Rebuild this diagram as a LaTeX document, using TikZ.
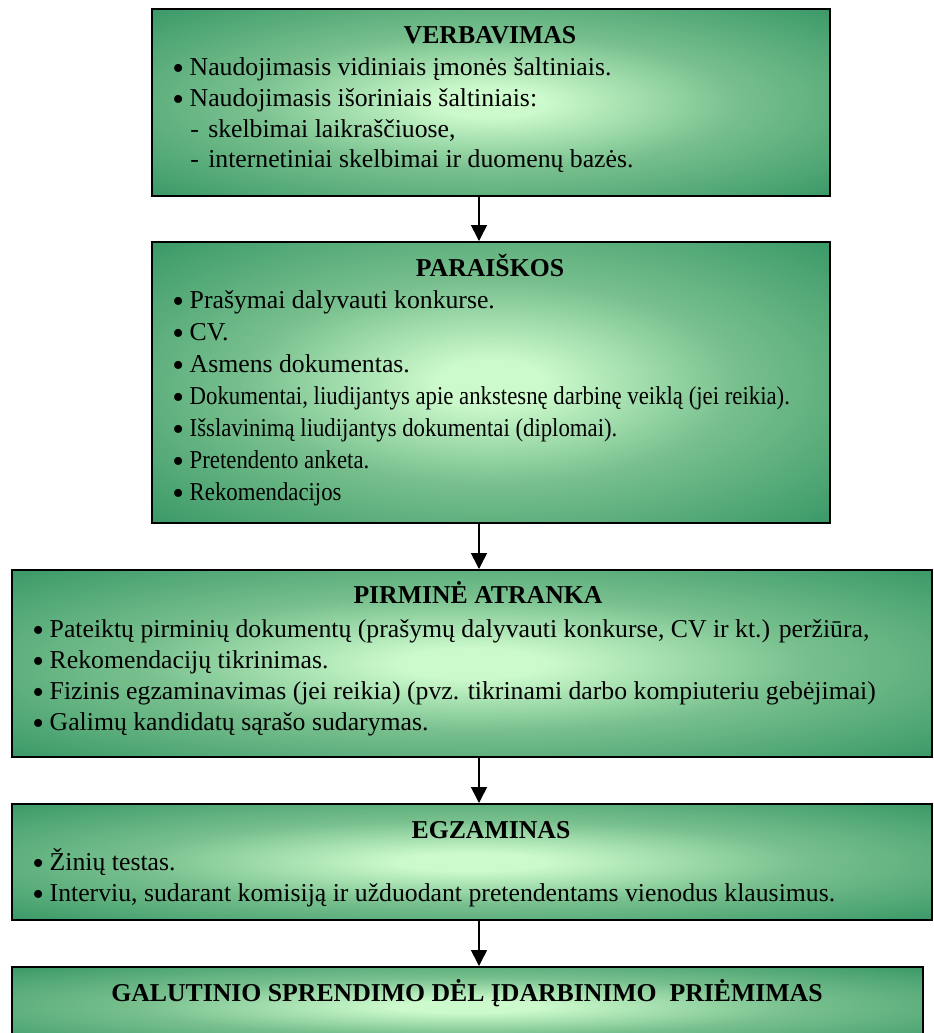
\documentclass[tikz,border=0pt]{standalone}
\usepackage{fontspec}
\setmainfont{Liberation Serif}
\usetikzlibrary{arrows.meta}
\definecolor{glowin}{RGB}{204,250,204}
\definecolor{glowmid}{RGB}{120,192,142}
\definecolor{glowout}{RGB}{56,152,102}
\pgfdeclareradialshading{greenglow}{\pgfpoint{0bp}{0bp}}{%
  color(0bp)=(glowin); color(4bp)=(glowin); color(18bp)=(glowmid);
  color(36bp)=(glowout); color(100bp)=(glowout)}
\newcommand{\txtfont}{\fontsize{19.3}{23}\selectfont}
\newcommand{\bul}{\makebox[13.1pt][l]{\raisebox{-0.17em}{\scalebox{1.3}{•}}}}
\newcommand{\dsh}{\makebox[13.5pt][l]{-}}
\newcommand{\cond}[1]{\scalebox{0.885}[1]{#1}}
\begin{document}
\begin{tikzpicture}[x=0.75pt,y=-0.75pt,
  stagebox/.style={draw=black, line width=1.3pt, shading=greenglow,
    anchor=north west, inner sep=0pt},
  ttl/.style={anchor=base, inner sep=0pt, font=\txtfont\bfseries},
  ln/.style={anchor=base west, inner sep=0pt, font=\txtfont},
  arr/.style={line width=1.2pt, -{Triangle[width=12pt,length=12pt]}}]
\clip (0,0) rectangle (933,1033);
\path[fill=white] (0,0) rectangle (933,1033);

% stage boxes
\node[stagebox, minimum width=508.5pt, minimum height=140.25pt] (b1) at (151,8) {};
\node[stagebox, minimum width=508.5pt, minimum height=210.75pt] (b2) at (151,241) {};
\node[stagebox, minimum width=690pt, minimum height=140.25pt] (b3) at (11,569) {};
\node[stagebox, minimum width=690pt, minimum height=87pt] (b4) at (11,803) {};
\node[stagebox, minimum width=683.25pt, minimum height=59.25pt] (b5) at (11,966) {};

% arrows between stages
\coordinate (ax) at (479,0);
\draw[arr] (b1.south -| ax) -- (b2.north -| ax);
\draw[arr] (b2.south -| ax) -- (b3.north -| ax);
\draw[arr] (b3.south -| ax) -- (b4.north -| ax);
\draw[arr] (b4.south -| ax) -- (b5.north -| ax);

% VERBAVIMAS
\node[ttl] (t1) at (490,43) {VERBAVIMAS};
\node[ln] (t1a) at (172,75) {\bul Naudojimasis vidiniais įmonės šaltiniais.};
\node[ln] (t1b) at (172,106) {\bul Naudojimasis išoriniais šaltiniais:};
\node[ln] (t1c) at (190,137) {\dsh skelbimai laikraščiuose,};
\node[ln] (t1d) at (190,167) {\dsh internetiniai skelbimai ir duomenų bazės.};

% PARAIŠKOS
\node[ttl] (t2) at (490,276) {PARAIŠKOS};
\node[ln] (t2a) at (172,308) {\bul Prašymai dalyvauti konkurse.};
\node[ln] (t2b) at (172,340) {\bul CV.};
\node[ln] (t2c) at (172,372) {\bul Asmens dokumentas.};
\node[ln] (t2d) at (172,404) {\bul\cond{Dokumentai, liudijantys apie ankstesnę darbinę veiklą (jei reikia).}};
\node[ln] (t2e) at (172,436) {\bul\cond{Išslavinimą liudijantys dokumentai (diplomai).}};
\node[ln] (t2f) at (172,468) {\bul\cond{Pretendento anketa.}};
\node[ln] (t2g) at (172,500) {\bul\cond{Rekomendacijos}};

% PIRMINĖ ATRANKA
\node[ttl] (t3) at (478,603) {PIRMINĖ ATRANKA};
\node[ln] (t3a) at (32,637) {\bul Pateiktų pirminių dokumentų (prašymų dalyvauti konkurse, CV ir kt.) peržiūra,};
\node[ln] (t3b) at (32,668) {\bul Rekomendacijų tikrinimas.};
\node[ln] (t3c) at (32,699) {\bul Fizinis egzaminavimas (jei reikia) (pvz. tikrinami darbo kompiuteriu gebėjimai)};
\node[ln] (t3d) at (32,730) {\bul Galimų kandidatų sąrašo sudarymas.};

% EGZAMINAS
\node[ttl] (t4) at (491,838) {EGZAMINAS};
\node[ln] (t4a) at (32,870) {\bul Žinių testas.};
\node[ln] (t4b) at (32,901) {\bul Interviu, sudarant komisiją ir užduodant pretendentams vienodus klausimus.};

% GALUTINIS SPRENDIMAS
\node[ttl] (t5) at (467,1001) {GALUTINIO SPRENDIMO DĖL ĮDARBINIMO\ \ PRIĖMIMAS};
\end{tikzpicture}
\end{document}
